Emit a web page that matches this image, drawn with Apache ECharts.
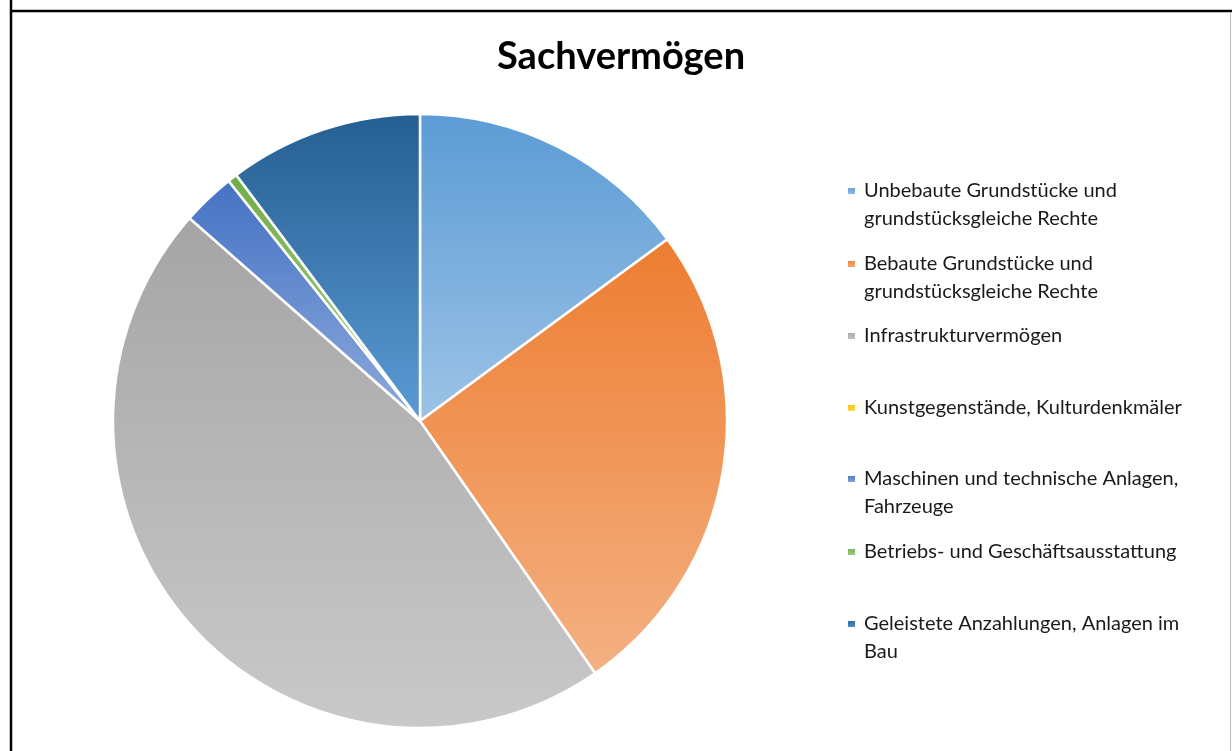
<!DOCTYPE html>
<html>
<head>
<meta charset="utf-8">
<script src="https://cdn.jsdelivr.net/npm/echarts@6/dist/echarts.min.js"></script>
<style>
  html, body { margin: 0; padding: 0; background: #fff; }
  #main { width: 1232px; height: 751px; }
</style>
</head>
<body>
<div id="main"></div>
<script>
var myChart = echarts.init(document.getElementById('main'));

// Kategorien und Anteile (in %)
var categories = [
    'Unbebaute Grundstücke und grundstücksgleiche Rechte',
    'Bebaute Grundstücke und grundstücksgleiche Rechte',
    'Infrastrukturvermögen',
    'Kunstgegenstände, Kulturdenkmäler',
    'Maschinen und technische Anlagen, Fahrzeuge',
    'Betriebs- und Geschäftsausstattung',
    'Geleistete Anzahlungen, Anlagen im Bau'
];
var values = [14.9, 25.4, 46.1, 0, 2.8, 0.5, 10.2];

// Legendentexte mit Zeilenumbruch wie im Original
var legendLines = [
    ['Unbebaute Grundstücke und', 'grundstücksgleiche Rechte'],
    ['Bebaute Grundstücke und', 'grundstücksgleiche Rechte'],
    ['Infrastrukturvermögen'],
    ['Kunstgegenstände, Kulturdenkmäler'],
    ['Maschinen und technische Anlagen,', 'Fahrzeuge'],
    ['Betriebs- und Geschäftsausstattung'],
    ['Geleistete Anzahlungen, Anlagen im', 'Bau']
];

// Verlaufsfarben (oben -> unten)
var colorsTop = ['#5b9bd5', '#ed7d31', '#a5a5a5', '#ffc000', '#4472c4', '#70ad47', '#255e91'];
var colorsBottom = ['#9dc3e6', '#f4b183', '#c9c9c9', '#ffd966', '#8faadc', '#a9d18e', '#5b9bd5'];

// y-Mitte der Legendensymbole
var legendCenters = [191, 264, 336, 408, 479, 552, 624];

function grad(i) {
    return new echarts.graphic.LinearGradient(0, 0, 0, 1, [
        { offset: 0, color: colorsTop[i] },
        { offset: 1, color: colorsBottom[i] }
    ]);
}

var data = categories.map(function (c, i) {
    return { name: c, value: values[i], itemStyle: { color: grad(i) } };
});

var lh = 28;
var legends = categories.map(function (c, i) {
    var lines = legendLines[i];
    var txt = lines.length > 1 ? '\n' + lines.join('\n') : lines[0];
    var n = lines.length > 1 ? 3 : 1;
    return {
        data: [c],
        left: 846,
        top: legendCenters[i] - n * lh / 2,
        padding: 0,
        orient: 'vertical',
        itemWidth: 9,
        itemHeight: 8,
        icon: 'rect',
        selectedMode: false,
        formatter: function () { return txt; },
        textStyle: {
            fontFamily: 'Lato',
            fontSize: 20,
            lineHeight: lh,
            color: '#1a1a1a',
            padding: [0, 0, 0, 3]
        }
    };
});

var option = {
    backgroundColor: '#fff',
    animation: false,
    title: {
        text: 'Sachvermögen',
        left: 497,
        top: 38,
        padding: 0,
        textStyle: {
            fontFamily: 'Lato',
            fontWeight: 'bold',
            fontSize: 38,
            color: '#000'
        }
    },
    legend: legends,
    graphic: [
        { type: 'line', shape: { x1: 11, y1: 0, x2: 11, y2: 751 }, style: { stroke: '#000', lineWidth: 2.5 } },
        { type: 'line', shape: { x1: 10, y1: 11, x2: 1232, y2: 11 }, style: { stroke: '#000', lineWidth: 2.5 } },
        { type: 'line', shape: { x1: 1230.5, y1: 12, x2: 1230.5, y2: 751 }, style: { stroke: '#bdbdbd', lineWidth: 1 } }
    ],
    series: [{
        type: 'pie',
        center: [420, 421],
        radius: [0, 307],
        startAngle: 90,
        clockwise: true,
        sort: null,
        data: data,
        label: { show: false },
        labelLine: { show: false },
        itemStyle: { borderColor: '#fff', borderWidth: 2.5 },
        emphasis: { scale: false }
    }]
};

myChart.setOption(option);
</script>
</body>
</html>
